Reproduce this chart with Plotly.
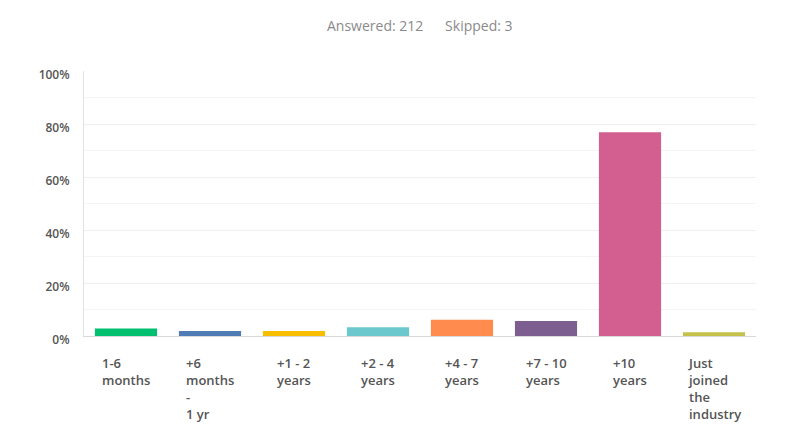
import plotly.graph_objects as go

# Survey question: years in the industry (share of respondents)
categories = [
    "1-6<br>months",
    "+6<br>months<br>-<br>1 yr",
    "+1 - 2<br>years",
    "+2 - 4<br>years",
    "+4 - 7<br>years",
    "+7 - 10<br>years",
    "+10<br>years",
    "Just<br>joined<br>the<br>industry",
]
percent = [2.83, 1.89, 1.89, 3.30, 6.13, 5.66, 76.89, 1.42]
bar_colors = ["#00BF6F", "#507CB6", "#F9BE00", "#6BC8CD",
              "#FF8B4F", "#7D5E90", "#D25F90", "#C4C24A"]
y_ticks = [0, 20, 40, 60, 80, 100]
y_tick_text = ["0%", "20%", "40%", "60%", "80%", "100%"]
answered = 212
skipped = 3

font_family = "'Open Sans', sans-serif"

fig = go.Figure(
    go.Bar(
        x=list(range(len(categories))),
        y=percent,
        marker=dict(color=bar_colors, line=dict(width=0)),
        hoverinfo="skip",
    )
)

# Category labels: block centred under each bar, lines left-aligned
for i, label in enumerate(categories):
    fig.add_annotation(
        x=i, y=0, xref="x", yref="y",
        text=label, showarrow=False,
        xanchor="center", yanchor="top", align="left",
        yshift=-16,
        font=dict(family=font_family, size=13, color="#555555", weight=600),
    )

fig.add_annotation(
    x=0.5, y=1, xref="paper", yref="paper",
    text=f"Answered: {answered}&nbsp;&nbsp;&nbsp;&nbsp;&nbsp;&nbsp;Skipped: {skipped}",
    showarrow=False, xanchor="center", yanchor="bottom", yshift=34,
    font=dict(family=font_family, size=14, color="#8a8a8a"),
)

fig.update_layout(
    width=800, height=424,
    margin=dict(l=84, r=44, t=71, b=88),
    paper_bgcolor="white", plot_bgcolor="white",
    bargap=0.26,
    showlegend=False,
    xaxis=dict(
        range=[-0.5, len(categories) - 0.5],
        showticklabels=False, showgrid=False, zeroline=False,
        showline=True, linecolor="#d8d8d8", linewidth=1,
        fixedrange=True,
    ),
    yaxis=dict(
        range=[0, 100],
        tickvals=y_ticks, ticktext=y_tick_text,
        tickfont=dict(family=font_family, size=12, color="#555555", weight=600),
        ticklabelstandoff=11,
        ticklabelshift=4,
        showgrid=True, gridcolor="#efefef", gridwidth=1,
        minor=dict(dtick=10, showgrid=True, gridcolor="#f4f4f4", gridwidth=1),
        zeroline=False,
        showline=True, linecolor="#e2e2e2", linewidth=1,
        fixedrange=True,
    ),
)

fig.write_html("out.html")
